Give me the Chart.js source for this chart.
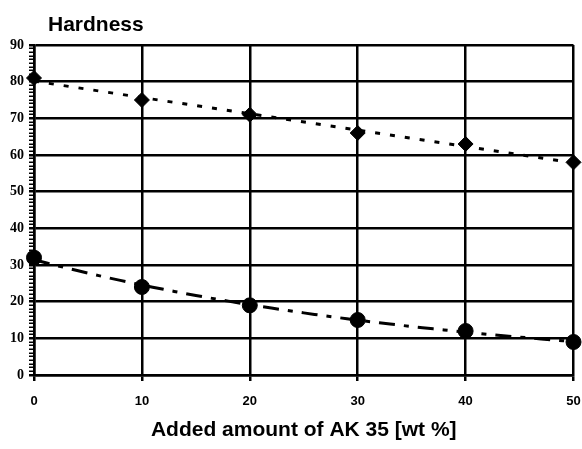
<!DOCTYPE html>
<html>
<head>
<meta charset="utf-8">
<script src="https://cdn.jsdelivr.net/npm/chart.js@4/dist/chart.umd.min.js"></script>
<style>
html,body{margin:0;padding:0;background:#fff;}
#wrap{width:582px;height:449px;position:relative;}
</style>
</head>
<body>
<div id="wrap"><canvas id="c" width="582" height="449"></canvas></div>
<script>
// ---- data ----
const amounts = [0, 10, 20, 30, 40, 50];          // Added amount of AK 35 [wt %]
const hardnessUpper = [81, 75, 71, 66, 63, 58];   // diamond series
const hardnessLower = [32, 24, 19, 15, 12, 9];    // circle series
const yTickLabels = [0, 10, 20, 30, 40, 50, 60, 70, 80, 90];
const xTickLabels = [0, 10, 20, 30, 40, 50];
const chartTitle = 'Hardness';
const xAxisTitle = 'Added amount of AK 35 [wt %]';

// ---- trend lines (regressions of the series above, like spreadsheet trendlines) ----
function linearFit(xs, ys) {
  const n = xs.length;
  const mx = xs.reduce((a, b) => a + b, 0) / n;
  const my = ys.reduce((a, b) => a + b, 0) / n;
  let sxy = 0, sxx = 0;
  for (let i = 0; i < n; i++) { sxy += (xs[i] - mx) * (ys[i] - my); sxx += (xs[i] - mx) ** 2; }
  const b = sxy / sxx;
  return x => my + b * (x - mx);
}
function expFit(xs, ys) {
  const f = linearFit(xs, ys.map(v => Math.log(v)));
  return x => Math.exp(f(x));
}
const upperTrend = linearFit(amounts, hardnessUpper);
const lowerTrend = expFit(amounts, hardnessLower);
const xMin = xTickLabels[0], xMax = xTickLabels[xTickLabels.length - 1];
const upperTrendPts = [xMin, xMax].map(x => ({x, y: upperTrend(x)}));
const lowerTrendPts = [];
for (let x = xMin; x <= xMax; x += 1) lowerTrendPts.push({x, y: lowerTrend(x)});

const titlePlugin = {
  id: 'leftTitle',
  afterDraw(chart) {
    const ctx = chart.ctx;
    ctx.save();
    ctx.font = 'bold 21px "Liberation Sans", Arial, sans-serif';
    ctx.fillStyle = '#000';
    ctx.textBaseline = 'alphabetic';
    ctx.textAlign = 'left';
    ctx.fillText(chartTitle, 48, 31);
    ctx.restore();
  }
};

const yMajor = v => yTickLabels.includes(v);

new Chart(document.getElementById('c'), {
  type: 'line',
  data: {
    datasets: [
      {
        label: 'upper',
        data: amounts.map((x, i) => ({x, y: hardnessUpper[i]})),
        showLine: false,
        pointStyle: 'rectRot',
        pointRadius: 7.5,
        pointBackgroundColor: '#000',
        pointBorderColor: '#000',
        pointBorderWidth: 1,
        clip: false
      },
      {
        label: 'lower',
        data: amounts.map((x, i) => ({x, y: hardnessLower[i]})),
        showLine: false,
        pointStyle: 'circle',
        pointRadius: 7.5,
        pointBackgroundColor: '#000',
        pointBorderColor: '#000',
        pointBorderWidth: 1,
        clip: false
      },
      {
        label: 'upper trend',
        data: upperTrendPts,
        borderColor: '#000',
        borderWidth: 3,
        borderDash: [5, 10],
        pointRadius: 0,
        fill: false
      },
      {
        label: 'lower trend',
        data: lowerTrendPts,
        borderColor: '#000',
        borderWidth: 3,
        borderDash: [16, 9, 5, 9],
        pointRadius: 0,
        tension: 0,
        fill: false
      }
    ]
  },
  options: {
    responsive: false,
    animation: false,
    devicePixelRatio: 1,
    layout: { padding: { left: 0, right: 7, top: 45, bottom: 0 } },
    plugins: { legend: { display: false }, tooltip: { enabled: false }, title: { display: false } },
    scales: {
      x: {
        type: 'linear',
        min: xMin,
        max: xMax,
        afterFit: s => { s.height = 74; s.paddingLeft = 0; s.paddingRight = 0; },
        afterBuildTicks: s => { s.ticks = xTickLabels.map(v => ({value: v})); },
        ticks: {
          color: '#000',
          padding: 13,
          font: { family: '"Liberation Sans", Arial, sans-serif', weight: 'bold', size: 13 },
          maxRotation: 0,
          autoSkip: false
        },
        grid: { color: '#000', lineWidth: 2.5, tickLength: 6, tickColor: '#000', tickWidth: 2.5 },
        border: { color: '#000', width: 2.5 },
        title: {
          display: true,
          text: xAxisTitle,
          color: '#000',
          font: { family: '"Liberation Sans", Arial, sans-serif', weight: 'bold', size: 21 },
          padding: { top: 0, bottom: 6 }
        }
      },
      y: {
        type: 'linear',
        min: yTickLabels[0],
        max: yTickLabels[yTickLabels.length - 1],
        afterFit: s => { s.width = 34; s.paddingTop = 0; s.paddingBottom = 0; },
        ticks: {
          stepSize: 1,
          autoSkip: false,
          color: '#000',
          padding: 5,
          font: { family: '"Liberation Serif", "Times New Roman", serif', weight: 'bold', size: 14 },
          callback: v => (yMajor(v) ? String(v) : '')
        },
        grid: {
          color: c => (c.tick && yMajor(c.tick.value) ? '#000' : 'rgba(0,0,0,0)'),
          lineWidth: 2.5,
          tickLength: 5,
          tickColor: '#000',
          tickWidth: c => (c.tick && yMajor(c.tick.value) ? 2.5 : 1.5)
        },
        border: { color: '#000', width: 2.5 }
      }
    }
  },
  plugins: [titlePlugin]
});
</script>
</body>
</html>
